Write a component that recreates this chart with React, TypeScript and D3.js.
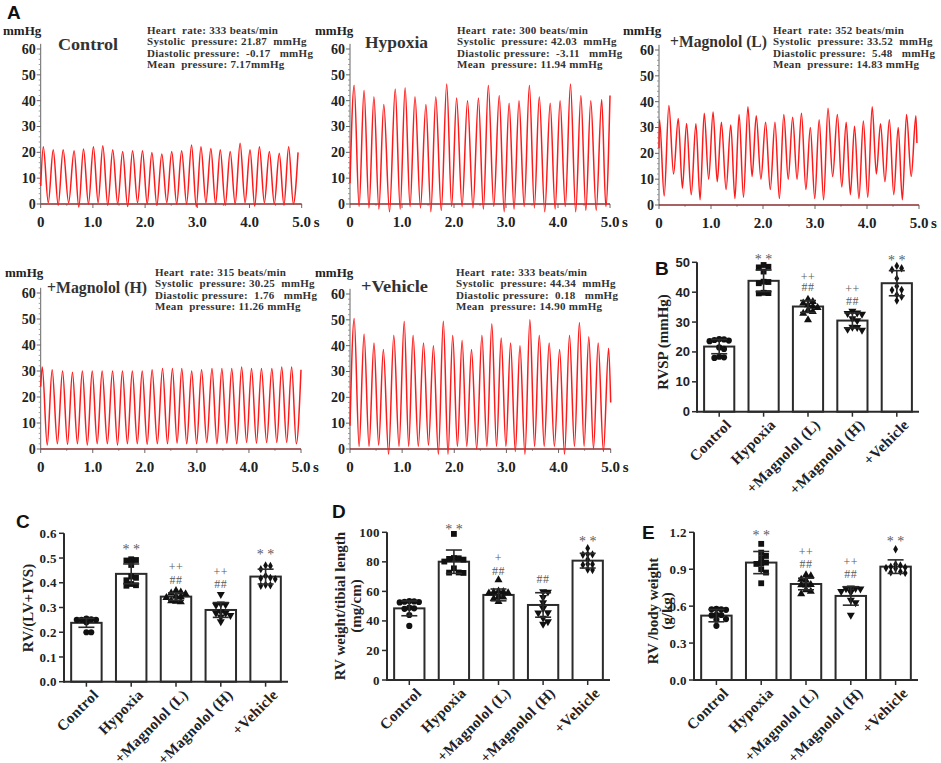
import React from 'react';
import * as d3 from 'd3';

// ---------------- DATA ----------------
const categories = ['Control', 'Hypoxia', '+Magnolol (L)', '+Magnolol (H)', '+Vehicle'];

// Panel A traces (time in s, pressure in mmHg)
const ctrlStart = 7;
const ctrlPeakT = [0.05, 0.24, 0.43, 0.64, 0.82, 1.01, 1.19, 1.38, 1.57, 1.76, 1.95, 2.13, 2.32, 2.51, 2.70, 2.89, 3.07, 3.26, 3.44, 3.63, 3.82, 4.01, 4.19, 4.38, 4.57, 4.75];
const ctrlPeaks = [22.2, 21, 21, 20.6, 21.3, 22.2, 22.5, 21, 20.3, 20.6, 20.6, 19.9, 19.4, 20.3, 20.6, 22.8, 22.2, 21.5, 21, 20.3, 23.5, 21, 22.2, 20.3, 19.6, 22.2];
const ctrlTroughs = [0.5, -0.5, 0.5, -1.2, 0, 0.5, -0.5, 0, -1, 0.5, 0, -0.5, 0.5, 0, 0, -1, 0.5, 0, -0.5, 0, 0.5, -0.8, 0.5, 0, -0.5, 0];
const ctrlEnd: [number, number] = [4.93, 20];

const hypStart = 8;
const hypPeakT = [0.08, 0.27, 0.46, 0.65, 0.87, 1.06, 1.25, 1.46, 1.65, 1.86, 2.05, 2.26, 2.47, 2.66, 2.87, 3.06, 3.25, 3.45, 3.64, 3.85, 4.04, 4.24, 4.44, 4.63, 4.84];
const hypPeaks = [46, 44, 41.5, 38.5, 44.5, 45, 41.5, 38.5, 41.5, 46.5, 41, 40, 41, 46, 42, 39, 40, 46, 41.5, 39, 40, 46.5, 42, 40, 40.5];
const hypTroughs = [-1, -1.5, -2, -3, -2, -1, -1.5, -3, -2.5, -1, -1, -1.5, -2, -1, -3, -2, -1, -1.5, -3, -2, -1, -3, -2.5, -2.5, -1];
const hypEnd: [number, number] = [5.0, 42];

const magLStart = 22;
const magLPeakT = [0.01, 0.19, 0.37, 0.53, 0.71, 0.87, 1.04, 1.2, 1.38, 1.54, 1.71, 1.87, 2.05, 2.23, 2.4, 2.57, 2.74, 2.91, 3.08, 3.25, 3.43, 3.6, 3.76, 3.93, 4.1, 4.26, 4.43, 4.6, 4.76, 4.94];
const magLPeaks = [33, 38.5, 33.5, 31.5, 31.5, 35.5, 36, 32, 31, 35, 38, 34.5, 32, 32, 35, 34, 35.5, 30, 33, 37.5, 35, 32, 30.5, 32.5, 38, 31.5, 33, 30, 35, 34.5];
const magLTroughs = [3.5, 12, 6.5, 4, 2, 10, 9, 6, 2.5, 3, 11, 10, 6, 2.5, 10, 10, 6, 2.5, 2, 11, 7, 4, 2.5, 3, 12, 9, 4, 2, 11];
const magLEnd: [number, number] = [4.96, 24];

const magHStart = 24;
const magHPeakT = [0.03, 0.22, 0.42, 0.61, 0.8, 0.99, 1.18, 1.38, 1.57, 1.76, 1.95, 2.14, 2.34, 2.53, 2.71, 2.9, 3.09, 3.29, 3.48, 3.67, 3.86, 4.05, 4.24, 4.44, 4.63, 4.82];
const magHPeaks = [31.5, 30.5, 30, 29.5, 30, 30, 30, 30, 30, 30, 30, 30.5, 31, 31, 31, 30, 30.5, 31, 31, 31, 31.5, 31, 31, 31, 31.5, 31.5];
const magHTroughs = [1.5, 2, 1.8, 2, 1.5, 2, 2, 1.5, 2, 2, 1.8, 2, 2, 2.2, 2, 2, 2.5, 2, 2.2, 2, 2.5, 2.2, 2.5, 2.5, 2.5, 2];
const magHEnd: [number, number] = [5.0, 30.5];

const vehStart = 9;
const vehPeakT = [0.08, 0.27, 0.46, 0.64, 0.84, 1.04, 1.21, 1.41, 1.6, 1.79, 1.97, 2.15, 2.33, 2.53, 2.72, 2.9, 3.08, 3.26, 3.45, 3.63, 3.82, 4.02, 4.21, 4.4, 4.58, 4.76, 4.96];
const vehPeaks = [50.5, 44.5, 41, 38.5, 44, 49.5, 44, 41, 40, 49.5, 44, 42, 38.5, 44, 48.5, 43, 41, 40, 50, 44, 41, 38.5, 44, 49, 43.5, 41, 39];
const vehTroughs = [1, 1, 1.5, -2, 1, 1, 1, 1.5, -2, -2, 1, 1, 0, 1, 1, 1, -1, -2, 1, 1, 1, -2, 1, 1, 0, -1];
const vehEnd: [number, number] = [5.0, 18];

const traceTitles = ['Control', 'Hypoxia', '+Magnolol (L)', '+Magnolol (H)', '+Vehicle'];
const heartRates = ['333', '300', '352', '315', '333'];
const systolic = ['21.87', '42.03', '33.52', '30.25', '44.34'];
const diastolic = ['-0.17', '-3.11', '5.48', '1.76', '0.18'];
const meanP = ['7.17', '11.94', '14.83', '11.26', '14.90'];
const traceYTicks = [0, 10, 20, 30, 40, 50, 60];
const traceXTicks = [0, 1, 2, 3, 4, 5];

// Panel B: RVSP (mmHg)
const rvspMean = [21.8, 43.8, 35.2, 30.5, 43.0];
const rvspSD = [2.4, 3.6, 2.0, 2.5, 4.2];
const rvspPts = [
  [24.0, 24.2, 23.8, 24.3, 23.6, 21.5, 21.0, 18.2, 18.0, 18.4],
  [48.5, 48.3, 49.1, 46.9, 43.5, 43.4, 43.0, 39.6, 39.7, 39.8],
  [36.3, 36.8, 37.6, 35.7, 35.2, 34.8, 33.5, 34.0, 32.9, 30.7],
  [32.7, 33.1, 33.7, 32.9, 31.2, 30.5, 28.2, 27.3, 27.6, 28.3],
  [48.0, 48.8, 47.5, 44.6, 42.0, 40.7, 40.8, 39.1, 38.5, 37.2],
];
const rvspTicks = [0, 10, 20, 30, 40, 50];
const rvspAnn: [number, string, number][] = [[1, '* *', 51.9], [2, '++', 44.9], [2, '##', 41.6], [3, '++', 40.9], [3, '##', 37.2], [4, '* *', 51.6]];

// Panel C: RV/(LV+IVS)
const ratioMean = [0.238, 0.436, 0.344, 0.29, 0.425];
const ratioSD = [0.018, 0.04, 0.015, 0.03, 0.03];
const ratioPts = [
  [0.25, 0.255, 0.252, 0.25, 0.248, 0.245, 0.25, 0.24, 0.2, 0.2],
  [0.49, 0.492, 0.495, 0.472, 0.425, 0.42, 0.41, 0.39, 0.388, 0.395],
  [0.368, 0.362, 0.355, 0.358, 0.343, 0.345, 0.34, 0.327, 0.323, 0.325],
  [0.353, 0.31, 0.312, 0.315, 0.277, 0.283, 0.277, 0.243, 0.262, 0.268],
  [0.47, 0.468, 0.455, 0.415, 0.42, 0.418, 0.39, 0.388, 0.392, 0.428],
];
const ratioTicks = [0, 0.1, 0.2, 0.3, 0.4, 0.5, 0.6];
const ratioAnn: [number, string, number][] = [[1, '* *', 0.545], [2, '++', 0.46], [2, '##', 0.412], [3, '++', 0.44], [3, '##', 0.395], [4, '* *', 0.525]];

// Panel D: RV weight / tibial length (mg/cm)
const tibMean = [48.5, 80.1, 57.6, 50.8, 80.8];
const tibSD = [5.0, 7.9, 4.0, 8.3, 5.0];
const tibPts = [
  [53.2, 53.0, 52.5, 53.5, 52.8, 48.5, 48.2, 49.0, 44.0, 36.6],
  [98.9, 82.4, 82.0, 81.5, 82.6, 80.2, 72.7, 72.5, 72.8, 75.6],
  [67.7, 59.8, 59.5, 60.2, 59.0, 58.8, 56.4, 56.0, 53.0, 55.0],
  [59.8, 59.6, 56.0, 52.4, 48.5, 45.6, 45.5, 37.9, 39.5, 42.0],
  [89.2, 85.0, 85.2, 84.8, 81.7, 78.3, 78.0, 78.5, 74.5, 74.8],
];
const tibTicks = [0, 20, 40, 60, 80, 100];
const tibAnn: [number, string, number][] = [[1, '* *', 103.6], [2, '+', 81.9], [2, '##', 73.8], [3, '##', 68.4], [4, '* *', 95.5]];

// Panel E: RV / body weight (g/kg)
const bwMean = [0.523, 0.954, 0.78, 0.683, 0.921];
const bwSD = [0.05, 0.09, 0.047, 0.075, 0.055];
const bwPts = [
  [0.575, 0.574, 0.578, 0.57, 0.53, 0.525, 0.528, 0.49, 0.495, 0.44],
  [1.106, 1.035, 1.008, 0.99, 0.954, 0.943, 0.95, 0.9, 0.873, 0.786],
  [0.854, 0.845, 0.818, 0.808, 0.775, 0.77, 0.772, 0.732, 0.7, 0.72],
  [0.745, 0.748, 0.742, 0.74, 0.718, 0.72, 0.715, 0.65, 0.629, 0.528],
  [1.062, 0.92, 0.91, 0.905, 0.915, 0.93, 0.94, 0.875, 0.87, 0.88],
];
const bwTicks = [0, 0.3, 0.6, 0.9, 1.2];
const bwAnn: [number, string, number][] = [[1, '* *', 1.195], [2, '++', 1.032], [2, '##', 0.943], [3, '++', 0.951], [3, '##', 0.862], [4, '* *', 1.146]];

// ---------------- STYLE / LAYOUT ----------------
const SERIF = '"Liberation Serif", "Times New Roman", serif';
const SANS = '"Liberation Sans", Arial, sans-serif';
const W = 941;
const H = 763;

const traceData = [
  { start: ctrlStart, peakT: ctrlPeakT, peaks: ctrlPeaks, troughs: ctrlTroughs, end: ctrlEnd },
  { start: hypStart, peakT: hypPeakT, peaks: hypPeaks, troughs: hypTroughs, end: hypEnd },
  { start: magLStart, peakT: magLPeakT, peaks: magLPeaks, troughs: magLTroughs, end: magLEnd },
  { start: magHStart, peakT: magHPeakT, peaks: magHPeaks, troughs: magHTroughs, end: magHEnd },
  { start: vehStart, peakT: vehPeakT, peaks: vehPeaks, troughs: vehTroughs, end: vehEnd },
];

const traceLayout = [
  { x0: 40.7, x5: 301.7, y0: 204, y60: 49, unitX: 3, unitY: 35, titleX: 58, titleY: 50, titleW: 60, statsX: 147, statsY: 34 },
  { x0: 350, x5: 610, y0: 204, y60: 49, unitX: 315, unitY: 35, titleX: 365, titleY: 48, titleW: 63, statsX: 457, statsY: 34 },
  { x0: 659, x5: 919, y0: 205, y60: 50, unitX: 623, unitY: 35, titleX: 670, titleY: 47, titleW: 97, statsX: 773, statsY: 34 },
  { x0: 40.7, x5: 301, y0: 449, y60: 293, unitX: 5, unitY: 277, titleX: 47, titleY: 293, titleW: 100, statsX: 155, statsY: 276 },
  { x0: 350, x5: 610.7, y0: 449, y60: 294, unitX: 315, unitY: 277, titleX: 361, titleY: 292, titleW: 67, statsX: 456, statsY: 276 },
];

function Trace({ i }: { i: number }) {
  const L = traceLayout[i];
  const d = traceData[i];
  const x = d3.scaleLinear().domain([0, 5]).range([L.x0, L.x5]);
  const y = d3.scaleLinear().domain([0, 60]).range([L.y0, L.y60]);
  const pts: [number, number][] = [[0, d.start]];
  d.peakT.forEach((t, k) => {
    pts.push([t, d.peaks[k]]);
    if (k < d.troughs.length) {
      const next = k + 1 < d.peakT.length ? d.peakT[k + 1] : d.end[0];
      pts.push([(t + next) / 2, d.troughs[k]]);
    }
  });
  pts.push(d.end);
  const line = d3.line<[number, number]>().x(p => x(p[0])).y(p => y(p[1])).curve(d3.curveMonotoneX);
  const minor = d3.range(0, 62, 2).filter(v => v % 10 !== 0);
  const xMinor = d3.range(0.5, 5, 1);
  const stats = [
    `Heart  rate: ${heartRates[i]} beats/min`,
    `Systolic  pressure: ${systolic[i]}  mmHg`,
    `Diastolic pressure:  ${diastolic[i]}   mmHg`,
    `Mean  pressure: ${meanP[i]}${i === 0 ? '' : ' '}mmHg`,
  ];
  return (
    <g>
      <line x1={L.x0} x2={L.x0} y1={y(0)} y2={y(62)} stroke="#666" strokeWidth={1} />
      {traceYTicks.map(v => (
        <g key={v}>
          <line x1={L.x0 - 4} x2={L.x0} y1={y(v)} y2={y(v)} stroke="#666" strokeWidth={1} />
          <text x={L.x0 - 5} y={y(v)} dy="0.35em" textAnchor="end" fontFamily={SERIF} fontWeight="bold" fontSize={14} fill="#222">{v}</text>
        </g>
      ))}
      {minor.map(v => (
        <line key={'m' + v} x1={L.x0 - 2} x2={L.x0} y1={y(v)} y2={y(v)} stroke="#888" strokeWidth={0.8} />
      ))}
      {traceXTicks.map(v => (
        <g key={'x' + v}>
          <line x1={x(v)} x2={x(v)} y1={y(0)} y2={y(0) + 4} stroke="#666" strokeWidth={1} />
          <text x={x(v)} y={L.y0 + 23} textAnchor="middle" fontFamily={SERIF} fontWeight="bold" fontSize={15} fill="#222">{v === 0 ? '0' : v.toFixed(1)}</text>
        </g>
      ))}
      {xMinor.map(v => (
        <line key={'xm' + v} x1={x(v)} x2={x(v)} y1={y(0)} y2={y(0) + 2} stroke="#888" strokeWidth={0.8} />
      ))}
      <text x={x(5) + 12} y={L.y0 + 23} fontFamily={SERIF} fontWeight="bold" fontSize={15} fill="#222">s</text>
      <line x1={L.x0} x2={L.x5} y1={y(0)} y2={y(0)} stroke="#8a2f2f" strokeWidth={1.6} />
      <path d={line(pts) || ''} fill="none" stroke="#ff1a1a" strokeWidth={1.5} />
      <text x={L.unitX} y={L.unitY} fontFamily={SERIF} fontWeight="bold" fontSize={13} fill="#222">mmHg</text>
      <text x={L.titleX} y={L.titleY} fontFamily={SERIF} fontWeight="bold" fontSize={17} fill="#333" textLength={L.titleW} lengthAdjust="spacingAndGlyphs">{traceTitles[i]}</text>
      {stats.map((s, k) => (
        <text key={k} x={L.statsX} y={L.statsY + k * 11.4} fontFamily={SERIF} fontWeight="bold" fontSize={11} fill="#333" style={{ whiteSpace: 'pre' }} letterSpacing={0.3}>{s}</text>
      ))}
    </g>
  );
}

const symbols = [d3.symbolCircle, d3.symbolSquare, d3.symbolTriangle, d3.symbolTriangle, d3.symbolDiamond];
const symbolSizes = [30, 34, 28, 28, 20];

type BarCfg = {
  letter: string; letterX: number; letterY: number;
  x0: number; x1: number; y0: number; yTop: number; max: number;
  ticks: number[]; fmt: (v: number) => string; tickFont: string;
  means: number[]; sds: number[]; pts: number[][]; ann: [number, string, number][];
  yLabel: { text: string; x: number }[]; yLabelCy: number;
};

function beeswarm(ys: number[], step: number, minDist: number, maxOff: number): number[] {
  const order = ys.map((v, k) => k).sort((a, b) => ys[a] - ys[b]);
  const placed: { x: number; y: number }[] = [];
  const xs = new Array(ys.length).fill(0);
  order.forEach(k => {
    const yy = ys[k];
    let best = 0;
    for (let n = 0; n < 20; n++) {
      const off = n === 0 ? 0 : (n % 2 === 1 ? 1 : -1) * Math.ceil(n / 2) * step;
      if (Math.abs(off) > maxOff) break;
      const ok = placed.every(p => Math.hypot(p.x - off, p.y - yy) >= minDist);
      if (ok) { best = off; break; }
    }
    xs[k] = best;
    placed.push({ x: best, y: yy });
  });
  return xs;
}

function BarPanel({ c }: { c: BarCfg }) {
  const x = d3.scaleBand().domain(categories).range([c.x0, c.x1]).paddingInner(0.32).paddingOuter(0.16);
  const y = d3.scaleLinear().domain([0, c.max]).range([c.y0, c.yTop]);
  const bw = x.bandwidth();
  const ink = '#2b2b2b';
  return (
    <g>
      <text x={c.letterX} y={c.letterY} fontFamily={SANS} fontWeight="bold" fontSize={19} fill="#111">{c.letter}</text>
      {categories.map((cat, i) => {
        const cx = (x(cat) || 0) + bw / 2;
        const m = c.means[i];
        const sd = c.sds[i];
        const ys = c.pts[i].map(v => y(v));
        const xs = beeswarm(ys, 4.8, 4.6, bw / 2 - 2);
        const sym = d3.symbol().type(symbols[i]).size(symbolSizes[i]);
        return (
          <g key={cat}>
            <rect x={x(cat)} y={y(m)} width={bw} height={c.y0 - y(m)} fill="#fff" stroke={ink} strokeWidth={2} />
            {c.pts[i].map((v, k) => (
              <path key={k} d={sym() || ''} transform={`translate(${cx + xs[k]},${y(v)})${i === 3 ? ' rotate(180)' : ''}`} fill="#111" />
            ))}
            <line x1={cx} x2={cx} y1={y(m - sd)} y2={y(m + sd)} stroke={ink} strokeWidth={1.6} />
            <line x1={cx - 8} x2={cx + 8} y1={y(m + sd)} y2={y(m + sd)} stroke={ink} strokeWidth={1.6} />
            <line x1={cx - 8} x2={cx + 8} y1={y(m - sd)} y2={y(m - sd)} stroke={ink} strokeWidth={1.6} />
            <line x1={cx} x2={cx} y1={c.y0} y2={c.y0 + 5} stroke={ink} strokeWidth={1.5} />
            <text transform={`translate(${cx + 13},${c.y0 + 14}) rotate(-45)`} textAnchor="end" fontFamily={SERIF} fontWeight="bold" fontSize={15} letterSpacing={0.3} fill="#222">{cat}</text>
          </g>
        );
      })}
      <g opacity={0.99}>
        {c.ann.map(([i, t, v], k) => {
          const cx = (x(categories[i]) || 0) + bw / 2;
          const star = t === '* *';
          const dy = star ? 7 : t === '##' ? 4 : 3.3;
          return (
            <text key={'a' + k} x={cx} y={y(v) + dy} textAnchor="middle" fontFamily={SERIF} fontSize={star ? 14 : 12} fill="#5a5a5a" letterSpacing={star ? 0 : 0.5}>{t}</text>
          );
        })}
      </g>
      <line x1={c.x0} x2={c.x0} y1={c.y0 + 1} y2={c.yTop} stroke={ink} strokeWidth={2} />
      <line x1={c.x0} x2={c.x1} y1={c.y0} y2={c.y0} stroke={ink} strokeWidth={2} />
      {c.ticks.map(v => (
        <g key={'t' + v}>
          <line x1={c.x0 - 5} x2={c.x0} y1={y(v)} y2={y(v)} stroke={ink} strokeWidth={1.5} />
          <text x={c.x0 - 7} y={y(v)} dy="0.35em" textAnchor="end" fontFamily={c.tickFont} fontWeight="bold" fontSize={13} letterSpacing={c.tickFont === SERIF ? 0.4 : 0} fill="#222">{c.fmt(v)}</text>
        </g>
      ))}
      {c.yLabel.map((l, k) => (
        <text key={'yl' + k} transform={`translate(${l.x},${c.yLabelCy}) rotate(-90)`} textAnchor="middle" fontFamily={SERIF} fontWeight="bold" fontSize={15} fill="#222">{l.text}</text>
      ))}
    </g>
  );
}

const f0 = (v: number) => d3.format('d')(v);
const f1 = (v: number) => d3.format('.1f')(v);

const barCfgs: BarCfg[] = [
  { letter: 'B', letterX: 655, letterY: 275, x0: 697, x1: 919, y0: 411.7, yTop: 262.3, max: 50, ticks: rvspTicks, fmt: f0, tickFont: SANS, means: rvspMean, sds: rvspSD, pts: rvspPts, ann: rvspAnn, yLabel: [{ text: 'RVSP (mmHg)', x: 668 }], yLabelCy: 342 },
  { letter: 'C', letterX: 16, letterY: 528, x0: 64, x1: 288, y0: 681.7, yTop: 533.3, max: 0.6, ticks: ratioTicks, fmt: f1, tickFont: SERIF, means: ratioMean, sds: ratioSD, pts: ratioPts, ann: ratioAnn, yLabel: [{ text: 'RV/(LV+IVS)', x: 33 }], yLabelCy: 608 },
  { letter: 'D', letterX: 332, letterY: 518, x0: 387, x1: 610, y0: 680, yTop: 532.3, max: 100, ticks: tibTicks, fmt: f0, tickFont: SERIF, means: tibMean, sds: tibSD, pts: tibPts, ann: tibAnn, yLabel: [{ text: 'RV weight/tibial length', x: 345 }, { text: '(mg/cm)', x: 361 }], yLabelCy: 606 },
  { letter: 'E', letterX: 642, letterY: 539, x0: 694, x1: 918, y0: 680, yTop: 532.3, max: 1.2, ticks: bwTicks, fmt: f1, tickFont: SERIF, means: bwMean, sds: bwSD, pts: bwPts, ann: bwAnn, yLabel: [{ text: 'RV /body weight', x: 658 }, { text: '(g/kg)', x: 672 }], yLabelCy: 611 },
];

export default function App() {
  return (
    <svg width={W} height={H} viewBox={`0 0 ${W} ${H}`} style={{ position: 'absolute', left: 0, top: 0, background: '#fff' }}>
      <rect x={0} y={0} width={W} height={H} fill="#fff" />
      <text x={7} y={19} fontFamily={SANS} fontWeight="bold" fontSize={19} fill="#111">A</text>
      {traceLayout.map((_, i) => <Trace key={i} i={i} />)}
      {barCfgs.map((c, i) => <BarPanel key={i} c={c} />)}
    </svg>
  );
}
